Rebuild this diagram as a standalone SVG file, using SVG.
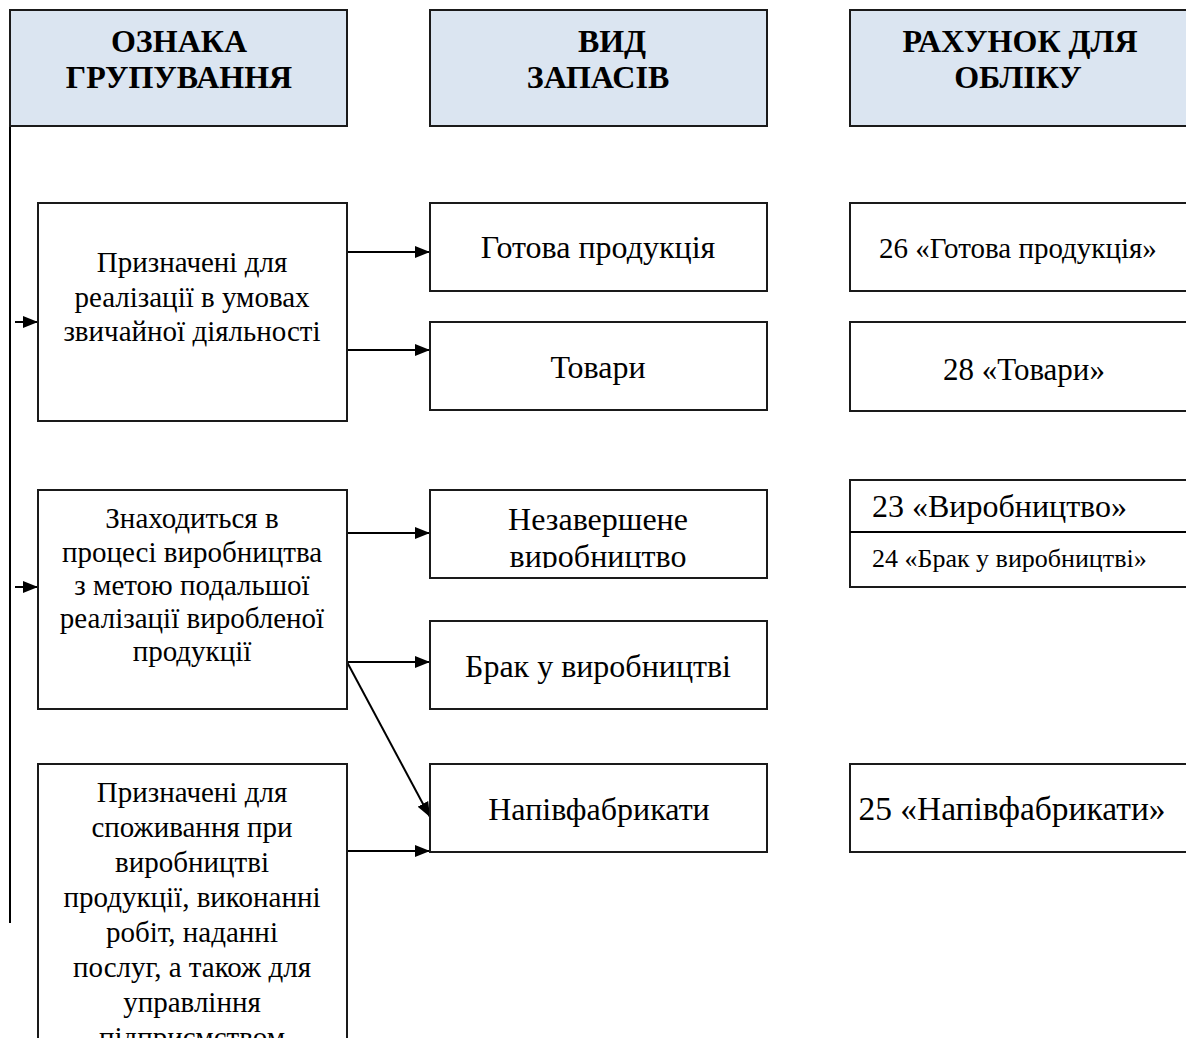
<svg xmlns="http://www.w3.org/2000/svg" width="1186" height="1038" viewBox="0 0 1186 1038">
<style>
.hdr{fill:#dbe5f1;stroke:#1a1a1a;stroke-width:2}
.box{fill:#ffffff;stroke:#1a1a1a;stroke-width:2}
.ht{font-family:"Liberation Serif","Times New Roman",serif;font-weight:bold;font-size:32px;fill:#000;text-anchor:middle}
.t{font-family:"Liberation Serif","Times New Roman",serif;font-size:29px;fill:#000;text-anchor:middle}
.tm{font-family:"Liberation Serif","Times New Roman",serif;font-size:32px;fill:#000;text-anchor:middle}
.tl{font-family:"Liberation Serif","Times New Roman",serif;font-size:32px;fill:#000}
.tsm{font-family:"Liberation Serif","Times New Roman",serif;font-size:26px;fill:#000}
.c{fill:none;stroke:#000;stroke-width:2}
</style>
<defs>
<marker id="ah" viewBox="0 0 15 12" refX="15" refY="6" markerWidth="15" markerHeight="12" markerUnits="userSpaceOnUse" orient="auto">
<path d="M0,0 L15,6 L0,12 Z" fill="#000"/>
</marker>
<clipPath id="clipNez"><rect x="431" y="491" width="335" height="77"/></clipPath>
</defs>

<g id="connectors">
<line class="c" x1="10" y1="126" x2="10" y2="923"/>
<line class="c" x1="15" y1="322" x2="38" y2="322" marker-end="url(#ah)"/>
<line class="c" x1="15" y1="587" x2="38" y2="587" marker-end="url(#ah)"/>
<line class="c" x1="347" y1="252" x2="430" y2="252" marker-end="url(#ah)"/>
<line class="c" x1="347" y1="350" x2="430" y2="350" marker-end="url(#ah)"/>
<line class="c" x1="347" y1="533" x2="430" y2="533" marker-end="url(#ah)"/>
<line class="c" x1="347" y1="662" x2="430" y2="662" marker-end="url(#ah)"/>
<line class="c" x1="347" y1="662" x2="430" y2="817" marker-end="url(#ah)"/>
<line class="c" x1="347" y1="851" x2="430" y2="851" marker-end="url(#ah)"/>
</g>

<g id="h1">
<rect class="hdr" x="10" y="10" width="337" height="116"/>
<text class="ht" x="179" y="52">ОЗНАКА</text>
<text class="ht" x="179" y="88">ГРУПУВАННЯ</text>
</g>
<g id="h2">
<rect class="hdr" x="430" y="10" width="337" height="116"/>
<text class="ht" x="612" y="52">ВИД</text>
<text class="ht" x="598" y="88">ЗАПАСІВ</text>
</g>
<g id="h3">
<rect class="hdr" x="850" y="10" width="340" height="116"/>
<text class="ht" x="1020" y="52">РАХУНОК ДЛЯ</text>
<text class="ht" x="1018" y="88">ОБЛІКУ</text>
</g>

<g id="g1">
<rect class="box" x="38" y="203" width="309" height="218"/>
<text class="t" x="192" y="272">Призначені для</text>
<text class="t" x="192" y="307">реалізації в умовах</text>
<text class="t" x="192" y="341">звичайної діяльності</text>
</g>
<g id="g2">
<rect class="box" x="38" y="490" width="309" height="219"/>
<text class="t" x="192" y="528">Знаходиться в</text>
<text class="t" x="192" y="562">процесі виробництва</text>
<text class="t" x="192" y="595">з метою подальшої</text>
<text class="t" x="192" y="628">реалізації виробленої</text>
<text class="t" x="192" y="661">продукції</text>
</g>
<g id="g3">
<rect class="box" x="38" y="764" width="309" height="290"/>
<text class="t" x="192" y="802">Призначені для</text>
<text class="t" x="192" y="837">споживання при</text>
<text class="t" x="192" y="872">виробництві</text>
<text class="t" x="192" y="907">продукції, виконанні</text>
<text class="t" x="192" y="942">робіт, наданні</text>
<text class="t" x="192" y="977">послуг, а також для</text>
<text class="t" x="192" y="1012">управління</text>
<text class="t" x="192" y="1047">підприємством</text>
</g>

<g id="v1">
<rect class="box" x="430" y="203" width="337" height="88"/>
<text class="tm" x="598" y="258">Готова продукція</text>
</g>
<g id="v2">
<rect class="box" x="430" y="322" width="337" height="88"/>
<text class="tm" x="598" y="378">Товари</text>
</g>
<g id="v3">
<rect class="box" x="430" y="490" width="337" height="88"/>
<g clip-path="url(#clipNez)">
<text class="tm" x="598" y="530">Незавершене</text>
<text class="tm" x="598" y="567">виробництво</text>
</g>
</g>
<g id="v4">
<rect class="box" x="430" y="621" width="337" height="88"/>
<text class="tm" x="598" y="677">Брак у виробництві</text>
</g>
<g id="v5">
<rect class="box" x="430" y="764" width="337" height="88"/>
<text class="tm" x="599" y="820">Напівфабрикати</text>
</g>

<g id="a1">
<rect class="box" x="850" y="203" width="340" height="88"/>
<text class="tm" x="1018" y="258" style="font-size:29px">26 «Готова продукція»</text>
</g>
<g id="a2">
<rect class="box" x="850" y="322" width="340" height="89"/>
<text class="tm" x="1024" y="380" style="font-size:31px">28 «Товари»</text>
</g>
<g id="a3">
<rect class="box" x="850" y="480" width="340" height="107"/>
<line class="c" x1="850" y1="532" x2="1190" y2="532"/>
<text class="tl" x="872" y="517">23 «Виробництво»</text>
<text class="tsm" x="872" y="567">24 «Брак у виробництві»</text>
</g>
<g id="a4">
<rect class="box" x="850" y="764" width="340" height="88"/>
<text class="tm" x="1012" y="820" style="font-size:33.5px">25 «Напівфабрикати»</text>
</g>
</svg>
